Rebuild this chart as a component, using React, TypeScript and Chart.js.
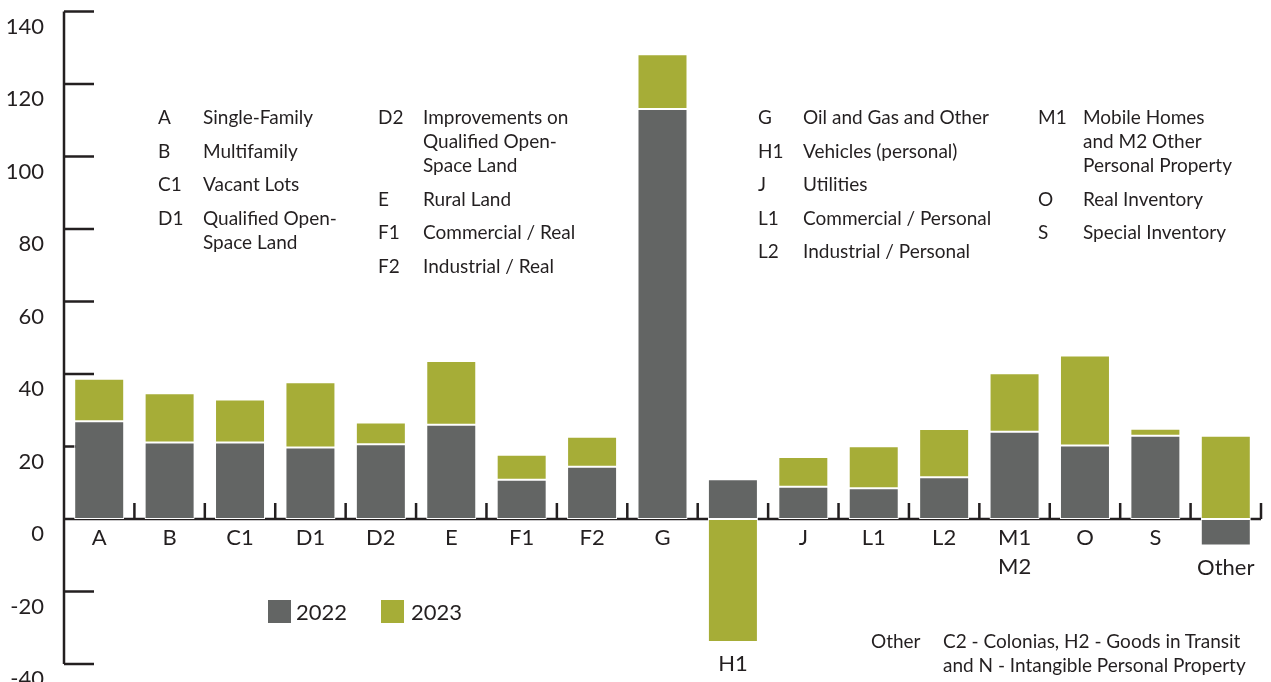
import React, { useEffect, useRef } from 'react';
import { Chart, registerables } from 'chart.js';

Chart.register(...registerables);

// ---------- data ----------
const categories: string[][] = [
  ['A'], ['B'], ['C1'], ['D1'], ['D2'], ['E'], ['F1'], ['F2'], ['G'], ['H1'],
  ['J'], ['L1'], ['L2'], ['M1', 'M2'], ['O'], ['S'], ['Other'],
];
const values2022 = [27.0, 21.1, 21.1, 19.7, 20.6, 26.0, 10.8, 14.4, 113.1, 11.0, 8.9, 8.5, 11.5, 24.1, 20.3, 23.0, -7.3];
const values2023 = [11.7, 13.6, 11.9, 18.0, 6.0, 17.6, 6.9, 8.3, 15.1, -33.9, 8.2, 11.6, 13.3, 16.1, 24.8, 1.9, 23.0];
const seriesNames = ['2022', '2023'];
const yMin = -40;
const yMax = 140;
const yStep = 20;

const codeColumns: [string, string[]][][] = [
  [
    ['A', ['Single-Family']],
    ['B', ['Multifamily']],
    ['C1', ['Vacant Lots']],
    ['D1', ['Qualified Open-', 'Space Land']],
  ],
  [
    ['D2', ['Improvements on', 'Qualified Open-', 'Space Land']],
    ['E', ['Rural Land']],
    ['F1', ['Commercial / Real']],
    ['F2', ['Industrial / Real']],
  ],
  [
    ['G', ['Oil and Gas and Other']],
    ['H1', ['Vehicles (personal)']],
    ['J', ['Utilities']],
    ['L1', ['Commercial / Personal']],
    ['L2', ['Industrial / Personal']],
  ],
  [
    ['M1', ['Mobile Homes', 'and M2 Other', 'Personal Property']],
    ['O', ['Real Inventory']],
    ['S', ['Special Inventory']],
  ],
];
const otherCode = 'Other';
const otherNote = ['C2 - Colonias, H2 - Goods in Transit', 'and N - Intangible Personal Property'];

// ---------- style ----------
const INK = '#231f20';
const GRAY = '#636564';
const OLIVE = '#a6ad37';
const FONT = 'Lato, "Open Sans", sans-serif';

const columnLefts = [158, 378, 758, 1038];

const axesPlugin = {
  id: 'customAxes',
  beforeDatasetsDraw(chart: any) {
    const { ctx, chartArea, scales } = chart;
    const x = scales.x;
    const y = scales.y;
    const y0 = y.getPixelForValue(0);
    const left = chartArea.left;
    const n = categories.length;
    ctx.save();
    ctx.strokeStyle = INK;
    ctx.lineWidth = 2.5;
    ctx.beginPath();
    ctx.moveTo(left, y.getPixelForValue(yMax));
    ctx.lineTo(left, y.getPixelForValue(yMin));
    for (let v = yMin; v <= yMax; v += yStep) {
      if (v === 0) continue;
      const py = y.getPixelForValue(v);
      ctx.moveTo(left, py);
      ctx.lineTo(left + 30, py);
    }
    const half = (x.getPixelForValue(1) - x.getPixelForValue(0)) / 2;
    const rightEnd = x.getPixelForValue(n - 1) + half;
    ctx.moveTo(left, y0);
    ctx.lineTo(rightEnd, y0);
    for (let i = 0; i < n; i++) {
      const bx = x.getPixelForValue(i) + half;
      ctx.moveTo(bx, y0);
      ctx.lineTo(bx, y0 - 16);
    }
    ctx.stroke();

    // y tick labels
    ctx.fillStyle = INK;
    ctx.font = `22px ${FONT}`;
    ctx.textAlign = 'right';
    ctx.textBaseline = 'middle';
    for (let v = yMin; v <= yMax; v += yStep) {
      ctx.fillText(String(v), left - 20, y.getPixelForValue(v) + 15);
    }
    ctx.restore();
  },
  afterDatasetsDraw(chart: any) {
    const { ctx, scales } = chart;
    const x = scales.x;
    const y = scales.y;
    const y0 = y.getPixelForValue(0);
    ctx.save();
    ctx.fillStyle = INK;
    ctx.font = `22px ${FONT}`;
    ctx.textAlign = 'center';
    ctx.textBaseline = 'middle';
    categories.forEach((lines, i) => {
      const neg = Math.min(0, values2022[i]) + Math.min(0, values2023[i]);
      const start = neg < 0 ? y.getPixelForValue(neg) + 22 : y0 + 19;
      const px = x.getPixelForValue(i);
      lines.forEach((t, j) => ctx.fillText(t, px, start + j * 29));
    });
    ctx.restore();
  },
};

export default function App() {
  const canvasRef = useRef<HTMLCanvasElement | null>(null);

  useEffect(() => {
    if (!canvasRef.current) return;
    const chart = new Chart(canvasRef.current, {
      type: 'bar',
      data: {
        labels: categories.map((c) => c.join(' ')),
        datasets: [
          {
            label: seriesNames[0],
            data: values2022,
            backgroundColor: GRAY,
            borderColor: '#ffffff',
            borderWidth: 1,
            borderSkipped: false,
            barPercentage: 0.71,
            categoryPercentage: 1,
            stack: 's',
          },
          {
            label: seriesNames[1],
            data: values2023,
            backgroundColor: OLIVE,
            borderColor: '#ffffff',
            borderWidth: 1,
            borderSkipped: false,
            barPercentage: 0.71,
            categoryPercentage: 1,
            stack: 's',
          },
        ],
      },
      options: {
        responsive: false,
        animation: false,
        devicePixelRatio: 1,
        layout: { padding: { top: 11.5, right: 10, bottom: 18, left: 0 } },
        plugins: {
          legend: { display: false },
          tooltip: { enabled: false },
        },
        scales: {
          x: { display: false, stacked: true },
          y: {
            stacked: true,
            min: yMin,
            max: yMax,
            ticks: { display: false, stepSize: yStep, padding: 0 },
            grid: { display: false, drawTicks: false },
            border: { display: false },
            afterFit: (s: any) => {
              s.width = 64;
            },
          },
        },
      },
      plugins: [axesPlugin],
    });
    return () => chart.destroy();
  }, []);

  const textStyle: React.CSSProperties = {
    fontFamily: FONT,
    fontSize: 19,
    lineHeight: '24px',
    color: INK,
    whiteSpace: 'nowrap',
  };

  return (
    <div style={{ position: 'fixed', left: 0, top: 0, width: 1271, height: 682, background: '#fff', overflow: 'hidden' }}>
      <canvas ref={canvasRef} width={1271} height={682} style={{ position: 'absolute', left: 0, top: 0 }} />
      {codeColumns.map((col, ci) => (
        <div key={ci} style={{ position: 'absolute', left: columnLefts[ci], top: 105, ...textStyle }}>
          {col.map(([code, lines], k) => (
            <div key={k} style={{ display: 'flex', marginBottom: 9.6 }}>
              <div style={{ width: 45 }}>{code}</div>
              <div>
                {lines.map((l, j) => (
                  <div key={j}>{l}</div>
                ))}
              </div>
            </div>
          ))}
        </div>
      ))}
      <div style={{ position: 'absolute', left: 871, top: 629, display: 'flex', ...textStyle }}>
        <div style={{ width: 72 }}>{otherCode}</div>
        <div>
          {otherNote.map((l, j) => (
            <div key={j}>{l}</div>
          ))}
        </div>
      </div>
      {seriesNames.map((name, i) => (
        <div
          key={name}
          style={{
            position: 'absolute',
            left: [268, 381][i],
            top: 600,
            display: 'flex',
            alignItems: 'center',
            fontFamily: FONT,
            fontSize: 22,
            lineHeight: '23px',
            color: INK,
          }}
        >
          <div style={{ width: 23, height: 23, background: i === 0 ? GRAY : OLIVE, marginRight: [5, 7][i] }} />
          <span>{name}</span>
        </div>
      ))}
    </div>
  );
}
